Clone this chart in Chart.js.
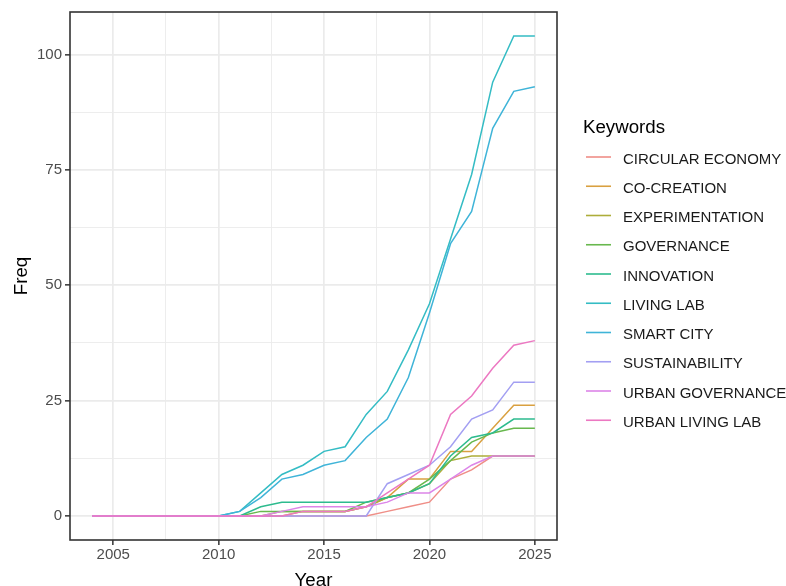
<!DOCTYPE html>
<html>
<head>
<meta charset="utf-8">
<title>Keywords over time</title>
<script src="https://cdn.jsdelivr.net/npm/chart.js@4.4.1/dist/chart.umd.min.js"></script>
<style>
  html, body { margin: 0; padding: 0; background: #fff; overflow: hidden; }
  #wrap { position: relative; width: 786px; height: 586px; }
</style>
</head>
<body>
<div id="wrap"><canvas id="chart" width="786" height="586"></canvas></div>
<script>
// cumulative keyword frequency per year
const years = [2004, 2005, 2006, 2007, 2008, 2009, 2010, 2011, 2012, 2013, 2014,
               2015, 2016, 2017, 2018, 2019, 2020, 2021, 2022, 2023, 2024, 2025];

const keywords = ['CIRCULAR ECONOMY', 'CO-CREATION', 'EXPERIMENTATION', 'GOVERNANCE', 'INNOVATION',
                  'LIVING LAB', 'SMART CITY', 'SUSTAINABILITY', 'URBAN GOVERNANCE', 'URBAN LIVING LAB'];

const circularEconomy  = [0, 0, 0, 0, 0, 0, 0, 0, 0, 0, 0, 0, 0, 0, 1, 2, 3, 8, 10, 13, 13, 13];
const coCreation       = [0, 0, 0, 0, 0, 0, 0, 0, 0, 0, 1, 1, 1, 2, 4, 8, 8, 14, 14, 19, 24, 24];
const experimentation  = [0, 0, 0, 0, 0, 0, 0, 0, 0, 1, 1, 1, 1, 2, 4, 5, 7, 12, 13, 13, 13, 13];
const governance       = [0, 0, 0, 0, 0, 0, 0, 0, 1, 1, 1, 1, 1, 3, 4, 5, 8, 12, 16, 18, 19, 19];
const innovation       = [0, 0, 0, 0, 0, 0, 0, 0, 2, 3, 3, 3, 3, 3, 4, 5, 7, 13, 17, 18, 21, 21];
const livingLab        = [0, 0, 0, 0, 0, 0, 0, 1, 5, 9, 11, 14, 15, 22, 27, 36, 46, 60, 74, 94, 104, 104];
const smartCity        = [0, 0, 0, 0, 0, 0, 0, 1, 4, 8, 9, 11, 12, 17, 21, 30, 44, 59, 66, 84, 92, 93];
const sustainability   = [0, 0, 0, 0, 0, 0, 0, 0, 0, 0, 0, 0, 0, 0, 7, 9, 11, 15, 21, 23, 29, 29];
const urbanGovernance  = [0, 0, 0, 0, 0, 0, 0, 0, 0, 1, 2, 2, 2, 2, 3, 5, 5, 8, 11, 13, 13, 13];
const urbanLivingLab   = [0, 0, 0, 0, 0, 0, 0, 0, 0, 0, 1, 1, 1, 2, 5, 8, 11, 22, 26, 32, 37, 38];

const series = [circularEconomy, coCreation, experimentation, governance, innovation,
                livingLab, smartCity, sustainability, urbanGovernance, urbanLivingLab];

const colors = ['#EF8E87', '#D9A040', '#ADAD3A', '#68B84E', '#2DBB8E',
                '#34BCC4', '#3FB4D8', '#A39FF2', '#DC85E8', '#EC78C2'];

const xBreaks = [2005, 2010, 2015, 2020, 2025];
const xMinor = [2007.5, 2012.5, 2017.5, 2022.5];
const yBreaks = [0, 25, 50, 75, 100];
const yMinor = [12.5, 37.5, 62.5, 87.5];

const FONT = '"Liberation Sans", Arial, sans-serif';

const tickList = (major, minor) => [...major, ...minor].sort((a, b) => a - b).map(v => ({ value: v }));

function gridOpts(major) {
  return {
    color: '#EBEBEB',
    lineWidth: c => major.includes(c.tick.value) ? 1.7 : 0.9,
    tickColor: c => major.includes(c.tick.value) ? '#333333' : 'rgba(0,0,0,0)',
    tickWidth: 1.5,
    tickLength: 5
  };
}

// full box around the panel, like theme_bw
const panelBorder = {
  id: 'panelBorder',
  afterDatasetsDraw(chart) {
    const { ctx, chartArea: a } = chart;
    ctx.save();
    ctx.strokeStyle = '#333333';
    ctx.lineWidth = 1.6;
    ctx.strokeRect(a.left, a.top, a.right - a.left, a.bottom - a.top);
    ctx.restore();
  }
};

// legend column on the right
const sideLegend = {
  id: 'sideLegend',
  afterDraw(chart) {
    const ctx = chart.ctx;
    ctx.save();
    ctx.fillStyle = '#000';
    ctx.textBaseline = 'alphabetic';
    ctx.font = '18.7px ' + FONT;
    ctx.fillText('Keywords', 583, 133);
    ctx.font = '15px ' + FONT;
    chart.data.datasets.forEach((ds, i) => {
      const y = 157 + i * 29.25;
      ctx.strokeStyle = ds.borderColor;
      ctx.lineWidth = 1.6;
      ctx.beginPath();
      ctx.moveTo(586, y);
      ctx.lineTo(611, y);
      ctx.stroke();
      ctx.fillStyle = '#1a1a1a';
      ctx.fillText(ds.label, 623, y + 6.5);
    });
    ctx.restore();
  }
};

const datasets = keywords.map((k, i) => ({
  label: k,
  data: years.map((yr, j) => ({ x: yr, y: series[i][j] })),
  borderColor: colors[i],
  backgroundColor: colors[i],
  borderWidth: 1.5,
  pointRadius: 0,
  tension: 0,
  fill: false,
  order: keywords.length - i
}));

new Chart(document.getElementById('chart'), {
  type: 'line',
  data: { datasets },
  plugins: [panelBorder, sideLegend],
  options: {
    responsive: false,
    devicePixelRatio: 1,
    animation: false,
    layout: { padding: { top: 6, right: 229, left: 0, bottom: 0 } },
    plugins: { legend: { display: false }, tooltip: { enabled: false } },
    scales: {
      x: {
        type: 'linear',
        min: 2002.95,
        max: 2026.05,
        afterBuildTicks: s => { s.ticks = tickList(xBreaks, xMinor); },
        afterFit: s => { s.height = 46; },
        ticks: {
          autoSkip: false,
          maxRotation: 0,
          padding: 1,
          color: '#4D4D4D',
          font: { family: FONT, size: 15 },
          callback: v => xBreaks.includes(v) ? String(v) : ''
        },
        grid: gridOpts(xBreaks),
        border: { display: false },
        title: { display: true, text: 'Year', color: '#000', font: { family: FONT, size: 18.7 }, padding: { top: 0, bottom: -6 } }
      },
      y: {
        type: 'linear',
        min: -5.2,
        max: 109.2,
        afterBuildTicks: s => { s.ticks = tickList(yBreaks, yMinor); },
        afterFit: s => { s.width = 70; },
        ticks: {
          autoSkip: false,
          padding: 3,
          color: '#4D4D4D',
          font: { family: FONT, size: 15 },
          callback: v => yBreaks.includes(v) ? String(v) : ''
        },
        grid: gridOpts(yBreaks),
        border: { display: false },
        title: { display: true, text: 'Freq', color: '#000', font: { family: FONT, size: 18.7 }, padding: { top: 11, bottom: 0 } }
      }
    }
  }
});
</script>
</body>
</html>
